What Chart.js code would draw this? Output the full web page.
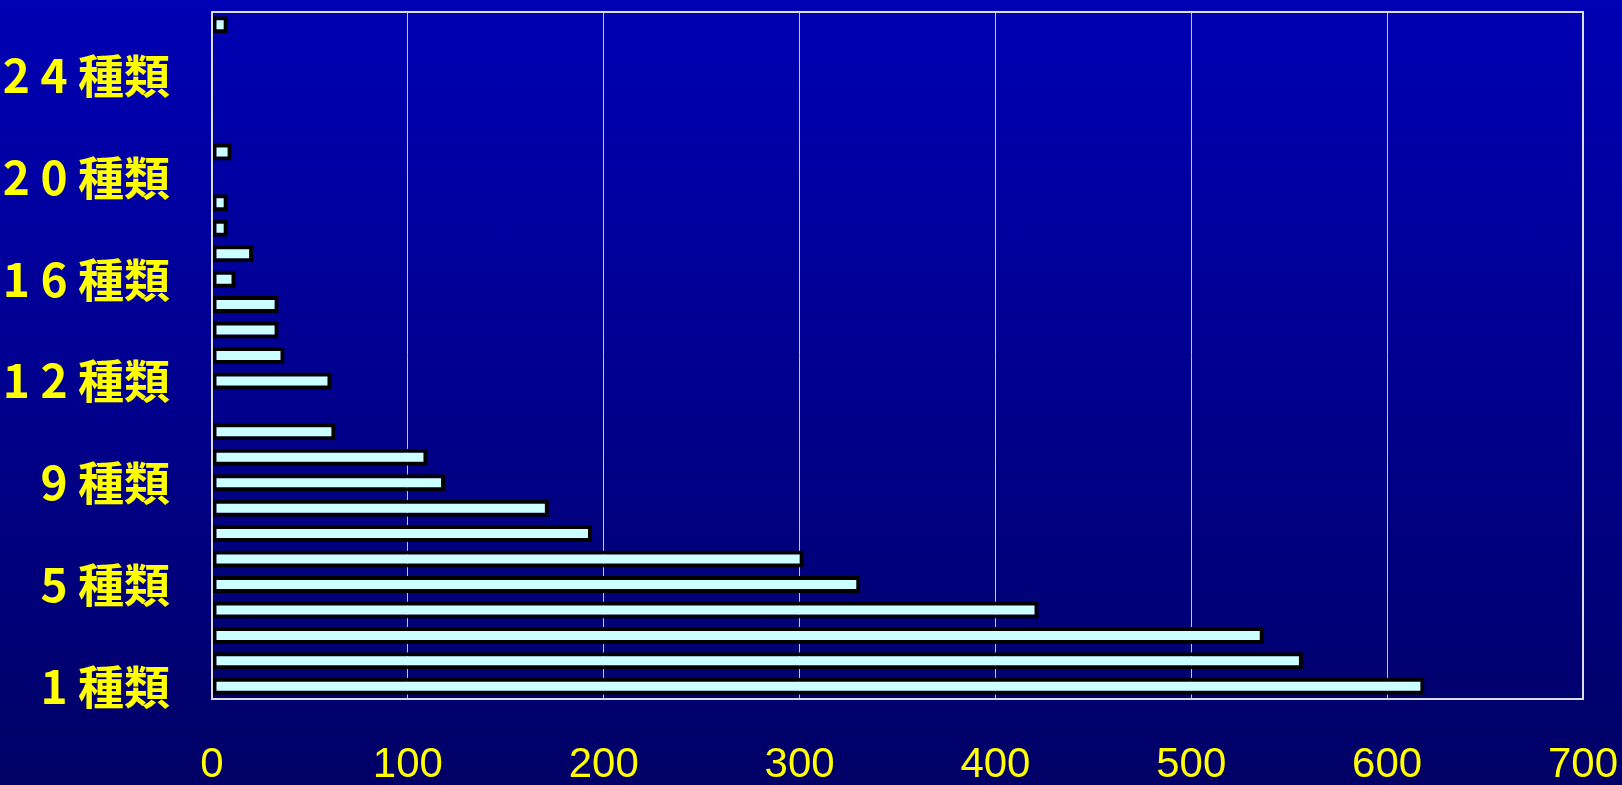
<!DOCTYPE html>
<html>
<head>
<meta charset="utf-8">
<script src="https://cdn.jsdelivr.net/npm/chart.js@4/dist/chart.umd.min.js"></script>
<style>
  html, body { margin: 0; padding: 0; }
  body {
    width: 1622px; height: 785px; overflow: hidden;
    background: linear-gradient(to bottom, #0000b4 0%, #00008e 50%, #000066 100%);
  }
  #wrap { position: relative; width: 1622px; height: 785px; }
</style>
</head>
<body>
<div id="wrap"><canvas id="c" width="1622" height="785"></canvas></div>
<script>
// Number of kinds (種類) per row; one row between 11 and 12 is left empty
const categories = [
  '1種類', '2種類', '3種類', '4種類', '5種類', '6種類', '7種類', '8種類', '9種類', '10種類', '11種類',
  '',
  '12種類', '13種類', '14種類', '15種類', '16種類', '17種類', '18種類', '19種類', '20種類',
  '21種類', '22種類', '23種類', '24種類', '25種類', '26種類'
];
const counts = [
  619, 557, 537, 422, 331, 302, 194, 172, 119, 110, 63,
  null,
  61, 37, 34, 34, 12, 21, 8, 8, null,
  10, null, null, null, null, 8
];
const xTicks = [0, 100, 200, 300, 400, 500, 600, 700];
const labelEvery = 4;

// "24種類" -> "2 4 種類"
function spaced(label) {
  const m = /^(\d+)(.*)$/.exec(label);
  if (!m) return label;
  return m[1].split('').join(' ') + ' ' + m[2];
}

// Tick labels may overhang the plot edges without shrinking it
function noOverhang(scale) {
  scale.paddingTop = 0;
  scale.paddingBottom = 0;
  scale.paddingLeft = 0;
  scale.paddingRight = 0;
}

// White frame around the plot area
const frame = {
  id: 'frame',
  afterDatasetsDraw(chart) {
    const a = chart.chartArea, ctx = chart.ctx;
    ctx.save();
    ctx.strokeStyle = '#dcdcdc';
    ctx.lineWidth = 2;
    ctx.strokeRect(a.left, a.top, a.right - a.left, a.bottom - a.top);
    ctx.restore();
  }
};

new Chart(document.getElementById('c'), {
  type: 'bar',
  data: {
    labels: categories,
    datasets: [{
      data: counts,
      backgroundColor: '#ccffff',
      borderColor: '#000000',
      borderWidth: 4,
      borderSkipped: false,
      inflateAmount: 0,
      barThickness: 17
    }]
  },
  options: {
    indexAxis: 'y',
    responsive: false,
    animation: false,
    layout: { padding: { top: 12, right: 39, left: 0, bottom: 0 } },
    plugins: { legend: { display: false }, tooltip: { enabled: false } },
    scales: {
      x: {
        min: xTicks[0],
        max: xTicks[xTicks.length - 1],
        afterFit(scale) { scale.height = 86; noOverhang(scale); },
        afterBuildTicks(scale) { scale.ticks = xTicks.map(v => ({ value: v })); },
        grid: { color: '#c8c8c8', lineWidth: 1, drawTicks: false },
        border: { display: false },
        ticks: {
          color: '#ffff00',
          padding: 41,
          font: { family: 'Liberation Sans, Arial, sans-serif', size: 42 }
        }
      },
      y: {
        reverse: true,
        afterFit(scale) { scale.width = 212; noOverhang(scale); },
        grid: { display: false, drawTicks: false },
        border: { display: false },
        ticks: {
          autoSkip: false,
          color: '#ffff00',
          padding: 42,
          font: { family: '"Noto Sans CJK JP", sans-serif', size: 46, weight: 'bold' },
          callback(value, index) {
            return index % labelEvery === 0 ? spaced(categories[index]) : '';
          }
        }
      }
    }
  },
  plugins: [frame]
});
</script>
</body>
</html>
